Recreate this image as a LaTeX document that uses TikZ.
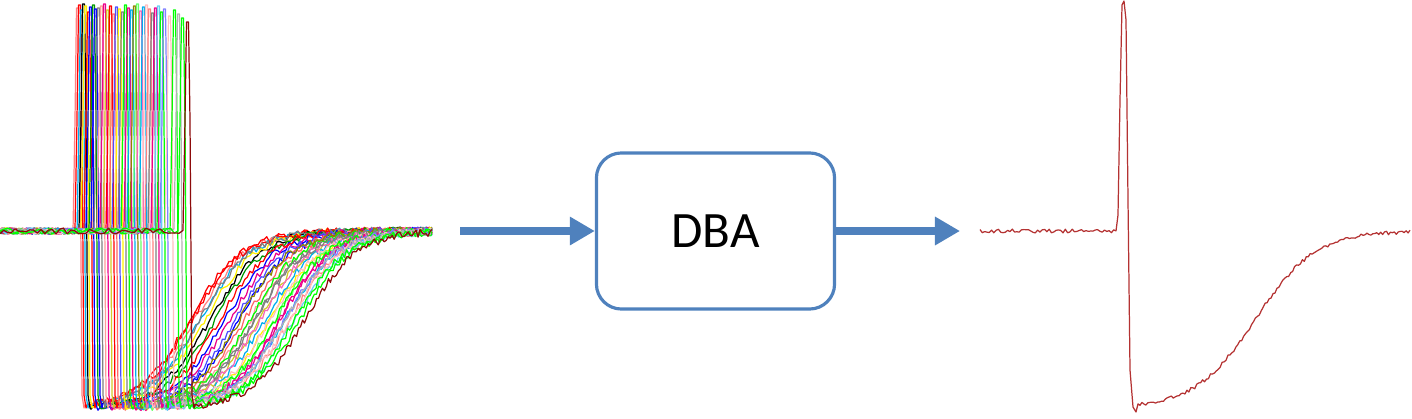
\documentclass[tikz,border=0pt]{standalone}
\usepackage{fontspec}
\setmainfont{Carlito}
\usepackage{xcolor}
\usetikzlibrary{arrows.meta, positioning}
\definecolor{dbablue}{RGB}{79,129,189}
\definecolor{avgred}{RGB}{180,50,50}
\definecolor{slowred}{RGB}{140,10,10}

\begin{document}
\begin{tikzpicture}[x=0.01cm, y=-0.01cm,
  trace/.style={line width=0.35pt, line join=round},
  flow/.style={dbablue, line width=2.4pt, -{Triangle[length=0.25cm,width=0.27cm]}},
  procbox/.style={draw=dbablue, line width=0.9pt, rounded corners=0.25cm,
    minimum width=2.38cm, minimum height=1.56cm, font=\fontsize{14.5}{17}\selectfont}]
  \useasboundingbox (0,0) rectangle (1412,418);
  \pgfmathsetseed{7}
  % input spikes
  \foreach \t/\c/\p/\col in {
    73/195/8/red!50,    75/190/5/red,       77/200/10/cyan,
    79/210/4/black,     81/205/6/yellow,    84/192/12/red,
    86/225/7/blue,      89/215/5/green!60!black, 91/240/9/blue,
    94/200/8/gray,      97/250/6/red!40,    100/230/4/magenta,
    103/260/10/yellow!80!black, 106/220/6/red, 109/245/14/red!60,
    112/235/7/blue!70,  115/270/9/yellow,   118/255/12/gray,
    121/250/5/green,    124/280/8/magenta,  127/265/10/cyan,
    130/240/6/olive,    133/275/4/green!60, 136/260/11/magenta!60,
    139/285/7/cyan,     142/270/5/pink,     145/290/9/red!50,
    148/255/13/gray,    151/280/8/magenta,  154/295/6/cyan!60,
    157/275/12/green,   160/285/9/blue!50,  165/290/16/pink,
    170/300/10/green,   174/285/14/gray!60, 178/295/18/green,
    183/305/22/slowred}
  {
    \draw[trace, \col] plot[domain=0:\t, samples=50] (\x, {231+3*rand})
      -- (\t+2,120) -- (\t+3.5,\p) -- (\t+5.5,\p) -- (\t+7,120) -- (\t+9,395) -- (\t+11,408)
      -- plot[domain=\t+12:432, samples=120] (\x, {231+177/(1+exp(min((\x-\c)/26,8)))+4*rand});
  }
  % averaging step
  \node[procbox] (dba) at (715.5,231) {DBA};
  \coordinate (inp) at (460,231);
  \coordinate (outp) at (960,231);
  \draw[flow] (inp) -- (dba.west);
  \draw[flow] (dba.east) -- (outp);
  % averaged output
  \draw[trace, avgred] plot[domain=980:1116, samples=60] (\x, {231+2*rand})
    -- (1118,215) -- (1120,100) -- (1122,5) -- (1124,1) -- (1126,20) -- (1128,200)
    -- (1130,370) -- (1133,407) -- (1136,412)
    -- plot[domain=1138:1410, samples=140] (\x, {231+177/(1+exp(min((\x-1255)/30,8)))+2*rand});
\end{tikzpicture}
\end{document}
